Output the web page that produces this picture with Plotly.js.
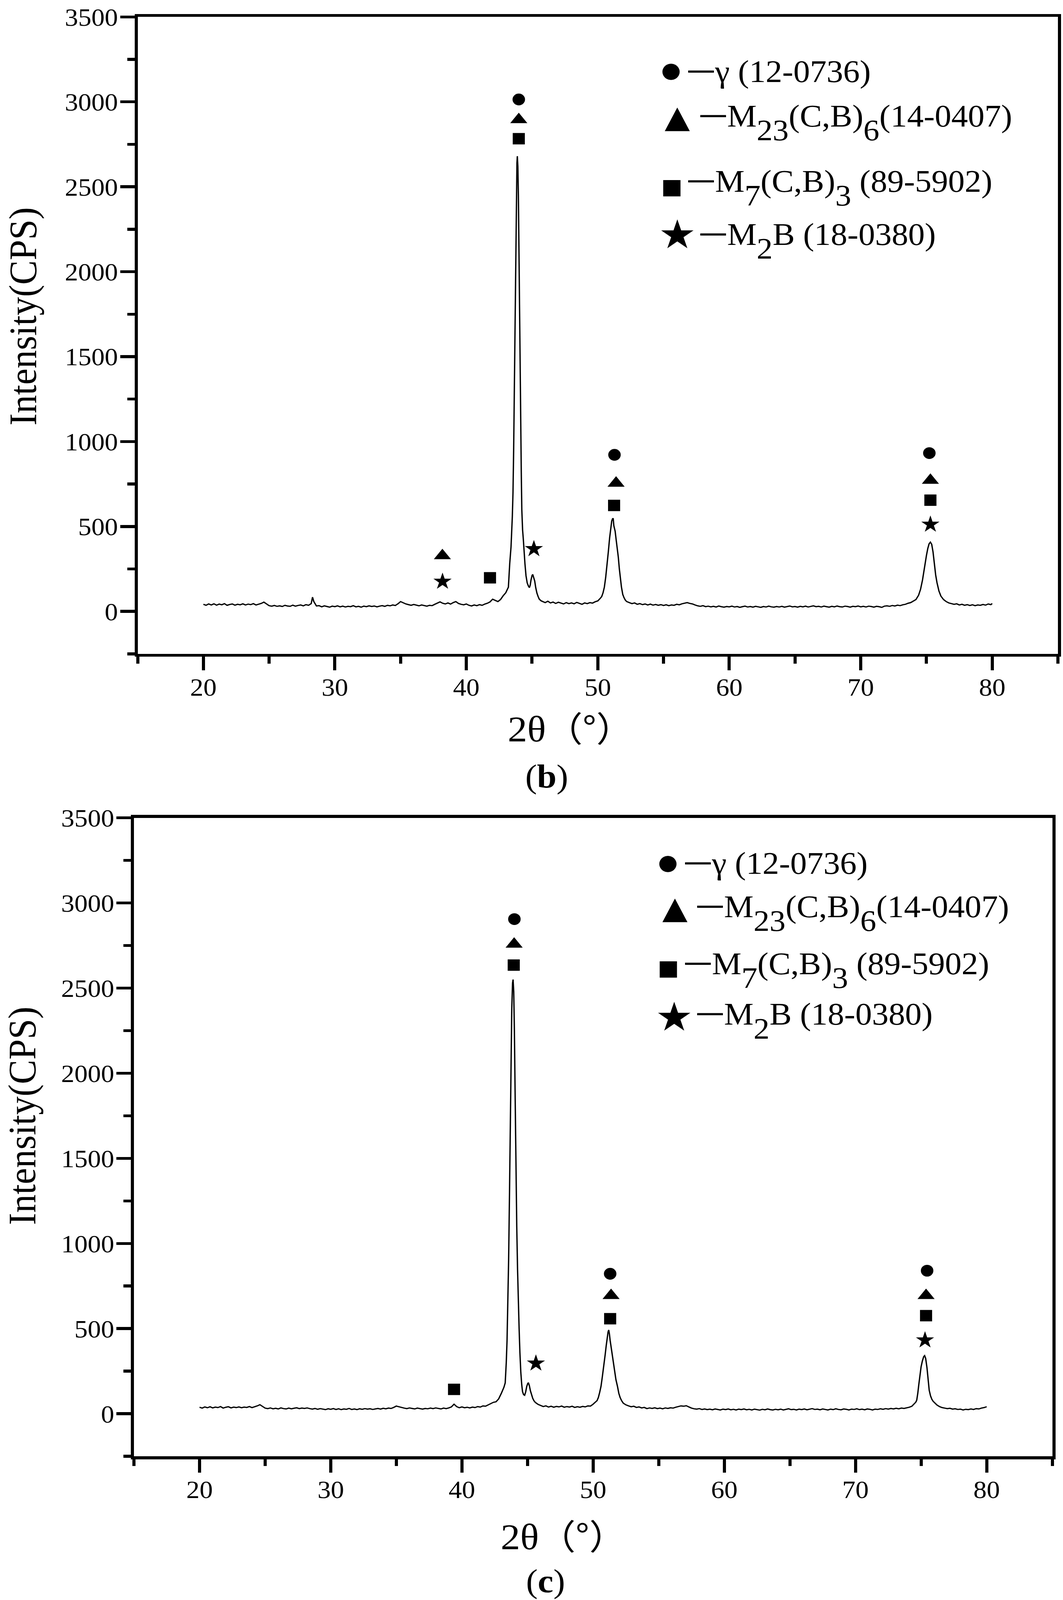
<!DOCTYPE html>
<html>
<head>
<meta charset="utf-8">
<script src="https://cdn.plot.ly/plotly-3.0.1.min.js"></script>
<style>html,body{margin:0;padding:0;background:#fff;overflow:hidden;}</style>
</head>
<body>
<div id="chart"></div>
<script>
// ---------- data (2θ in degrees, intensity in CPS) ----------
const thetaB = [
20.0,20.2,20.4,20.6,20.8,21.0,21.2,21.4,21.6,21.8,
22.0,22.2,22.4,22.6,22.8,23.0,23.2,23.4,23.6,23.8,
24.0,24.2,24.4,24.6,24.8,25.0,25.2,25.4,25.6,25.8,
26.0,26.2,26.4,26.6,26.8,27.0,27.2,27.4,27.6,27.8,
28.0,28.2,28.3,28.4,28.6,28.8,29.0,29.2,29.4,29.6,
29.8,30.0,30.2,30.4,30.6,30.8,31.0,31.2,31.4,31.6,
31.8,32.0,32.2,32.4,32.6,32.8,33.0,33.2,33.4,33.6,
33.8,34.0,34.2,34.4,34.6,34.8,35.0,35.2,35.4,35.6,
35.8,36.0,36.2,36.4,36.6,36.8,37.0,37.2,37.4,37.6,
37.8,38.0,38.2,38.4,38.6,38.8,39.0,39.2,39.4,39.6,
39.8,40.0,40.2,40.4,40.6,40.8,41.0,41.2,41.4,41.6,
41.8,42.0,42.2,42.4,42.6,42.8,43.0,43.1,43.2,43.3,
43.4,43.5,43.55,43.6,43.65,43.7,43.75,43.8,43.85,43.88,
43.92,43.96,44.0,44.05,44.1,44.14,44.18,44.22,44.28,44.34,
44.4,44.46,44.54,44.63,44.72,44.8,44.86,44.92,45.0,45.05,
45.12,45.2,45.28,45.37,45.46,45.55,45.7,45.8,46.0,46.2,
46.4,46.6,46.8,47.0,47.2,47.4,47.6,47.8,48.0,48.2,
48.4,48.6,48.8,49.0,49.2,49.4,49.6,49.8,50.0,50.2,
50.3,50.4,50.5,50.6,50.7,50.8,50.9,51.0,51.06,51.12,
51.17,51.22,51.27,51.32,51.4,51.48,51.56,51.64,51.72,51.8,
51.9,52.0,52.1,52.2,52.4,52.6,52.8,53.0,53.2,53.4,
53.6,53.8,54.0,54.2,54.4,54.6,54.8,55.0,55.2,55.4,
55.6,55.8,56.0,56.2,56.4,56.6,56.8,57.0,57.2,57.4,
57.6,57.8,58.0,58.2,58.4,58.6,58.8,59.0,59.2,59.4,
59.6,59.8,60.0,60.2,60.4,60.6,60.8,61.0,61.2,61.4,
61.6,61.8,62.0,62.2,62.4,62.6,62.8,63.0,63.2,63.4,
63.6,63.8,64.0,64.2,64.4,64.6,64.8,65.0,65.2,65.4,
65.6,65.8,66.0,66.2,66.4,66.6,66.8,67.0,67.2,67.4,
67.6,67.8,68.0,68.2,68.4,68.6,68.8,69.0,69.2,69.4,
69.6,69.8,70.0,70.2,70.4,70.6,70.8,71.0,71.2,71.4,
71.6,71.8,72.0,72.2,72.4,72.6,72.8,73.0,73.2,73.4,
73.6,73.8,74.0,74.2,74.4,74.55,74.7,74.85,75.0,75.1,
75.2,75.3,75.4,75.5,75.6,75.7,75.8,75.95,76.1,76.3,
76.5,76.7,76.9,77.1,77.3,77.5,77.7,77.9,78.1,78.3,
78.5,78.7,78.9,79.1,79.3,79.5,79.7,79.9,80.0
];
const countsB = [
42,36,44,38,45,37,43,39,46,36,
41,44,37,42,39,45,38,43,40,46,
38,42,47,55,44,34,31,35,30,33,
29,36,32,30,37,31,35,38,33,40,
36,46,84,58,32,34,27,33,29,25,
31,28,33,27,31,26,30,28,34,27,
30,25,31,28,33,29,32,27,31,34,
30,36,33,38,35,45,58,52,44,40,
36,41,37,33,38,35,31,36,34,42,
50,56,48,44,50,43,52,58,47,42,
39,44,36,32,38,34,40,36,43,48,
56,72,65,58,70,92,110,125,143,280,
380,560,700,950,1300,1700,2050,2450,2640,2680,
2620,2450,2150,1700,1300,1000,820,600,480,420,
340,280,210,168,150,140,155,185,212,218,
200,180,140,108,88,72,62,58,52,60,
50,55,47,54,49,44,52,46,50,45,
53,48,42,50,46,52,49,57,62,78,
88,110,143,200,267,350,433,500,532,545,
548,505,490,472,420,370,320,250,190,143,
100,80,66,58,52,46,50,42,46,40,
44,38,43,37,41,36,40,35,39,34,
38,36,42,39,45,48,52,47,44,38,
33,30,34,28,31,27,30,26,32,28,
25,29,27,31,26,29,24,28,31,26,
29,25,30,27,24,29,26,31,27,25,
29,26,30,25,28,32,27,29,25,30,
27,31,26,29,33,28,30,26,31,28,
25,30,27,32,28,26,31,29,25,30,
28,32,27,30,26,31,29,25,30,28,
24,31,33,30,35,32,37,34,39,42,
48,52,60,70,95,130,185,260,330,370,
398,408,395,350,280,215,170,120,90,70,
58,50,46,42,45,38,42,36,40,35,
39,34,38,36,41,37,44,40,47
];

const thetaC = [
20.0,20.2,20.4,20.6,20.8,21.0,21.2,21.4,21.6,21.8,
22.0,22.2,22.4,22.6,22.8,23.0,23.2,23.4,23.6,23.8,
24.0,24.2,24.4,24.6,24.8,25.0,25.2,25.4,25.6,25.8,
26.0,26.2,26.4,26.6,26.8,27.0,27.2,27.4,27.6,27.8,
28.0,28.2,28.4,28.6,28.8,29.0,29.2,29.4,29.6,29.8,
30.0,30.2,30.4,30.6,30.8,31.0,31.2,31.4,31.6,31.8,
32.0,32.2,32.4,32.6,32.8,33.0,33.2,33.4,33.6,33.8,
34.0,34.2,34.4,34.6,34.8,35.0,35.2,35.4,35.6,35.8,
36.0,36.2,36.4,36.6,36.8,37.0,37.2,37.4,37.6,37.8,
38.0,38.2,38.4,38.6,38.8,39.0,39.2,39.4,39.6,39.8,
40.0,40.2,40.4,40.6,40.8,41.0,41.2,41.4,41.6,41.8,
42.0,42.2,42.4,42.6,42.8,43.0,43.1,43.2,43.3,43.38,
43.44,43.5,43.56,43.62,43.68,43.74,43.8,43.86,43.9,43.95,
44.0,44.06,44.12,44.18,44.24,44.3,44.36,44.42,44.49,44.56,
44.62,44.7,44.78,44.86,44.94,45.02,45.07,45.14,45.22,45.3,
45.4,45.5,45.6,45.8,46.0,46.2,46.4,46.6,46.8,47.0,
47.2,47.4,47.6,47.8,48.0,48.2,48.4,48.6,48.8,49.0,
49.2,49.4,49.6,49.8,50.0,50.1,50.2,50.3,50.4,50.5,
50.6,50.7,50.8,50.92,51.0,51.08,51.14,51.19,51.24,51.3,
51.36,51.44,51.54,51.64,51.74,51.86,51.96,52.06,52.17,52.3,
52.5,52.7,52.9,53.1,53.3,53.5,53.7,53.9,54.1,54.3,
54.5,54.7,54.9,55.1,55.3,55.5,55.7,55.9,56.1,56.3,
56.5,56.7,56.9,57.1,57.3,57.5,57.7,57.9,58.1,58.3,
58.5,58.7,58.9,59.1,59.3,59.5,59.7,59.9,60.1,60.3,
60.5,60.7,60.9,61.1,61.3,61.5,61.7,61.9,62.1,62.3,
62.5,62.7,62.9,63.1,63.3,63.5,63.7,63.9,64.1,64.3,
64.5,64.7,64.9,65.1,65.3,65.5,65.7,65.9,66.1,66.3,
66.5,66.7,66.9,67.1,67.3,67.5,67.7,67.9,68.1,68.3,
68.5,68.7,68.9,69.1,69.3,69.5,69.7,69.9,70.1,70.3,
70.5,70.7,70.9,71.1,71.3,71.5,71.7,71.9,72.1,72.3,
72.5,72.7,72.9,73.1,73.3,73.5,73.7,73.9,74.1,74.3,
74.45,74.6,74.67,74.75,74.83,74.92,75.0,75.1,75.2,75.27,
75.35,75.45,75.55,75.62,75.72,75.82,75.92,76.05,76.2,76.4,
76.6,76.8,77.0,77.2,77.4,77.6,77.8,78.0,78.2,78.4,
78.6,78.8,79.0,79.2,79.4,79.6,79.8,80.0
];
const countsC = [
38,33,40,35,41,34,39,36,42,33,
38,41,34,39,36,40,35,39,37,42,
36,41,46,53,42,33,30,34,29,32,
28,34,30,28,33,29,32,35,30,33,
31,34,30,27,31,26,30,27,24,29,
26,30,25,29,24,28,26,31,25,28,
24,29,26,30,27,29,25,28,31,27,
32,29,33,31,37,45,41,36,33,30,
34,31,28,33,30,27,31,29,33,30,
34,31,28,33,30,34,40,56,42,35,
40,35,38,34,39,36,42,39,46,44,
52,58,67,70,87,119,135,155,181,300,
430,650,900,1250,1650,2050,2380,2530,2550,2480,
2250,1850,1450,1100,850,650,500,360,243,170,
130,112,108,128,160,178,182,165,135,115,
90,75,66,55,48,42,46,39,44,38,
43,40,45,38,42,39,44,37,41,38,
43,40,46,45,56,62,70,77,95,125,
160,215,270,347,400,450,480,492,470,430,
400,355,305,250,200,160,120,95,77,62,
52,46,41,44,37,40,34,37,30,34,
31,35,30,33,29,34,31,35,33,38,
42,46,44,47,40,33,29,27,30,25,
28,24,27,23,28,25,22,27,24,28,
23,26,22,27,24,28,23,26,22,27,
24,21,26,23,28,24,22,26,23,27,
22,25,29,24,26,22,27,24,28,23,
26,30,25,27,23,28,25,22,27,24,
29,25,23,28,26,22,27,25,29,24,
27,23,28,26,22,27,25,29,26,30,
27,31,28,32,29,33,31,34,38,44,
55,68,80,120,173,230,275,310,335,341,
325,270,190,138,105,85,73,62,52,42,
36,33,30,32,27,29,25,27,22,26,
24,28,25,30,28,33,36,41
];

// phase markers placed above the peaks (2θ, CPS)
const circleB   = {x: [43.99, 51.27, 75.22], y: [3014, 922, 932]};
const triangleB = {x: [43.99, 51.39, 75.3, 38.18], y: [2895, 755, 772, 328]};
const squareB   = {x: [43.99, 51.24, 75.3, 41.8], y: [2783, 624, 655, 198]};
const starB     = {x: [45.14, 38.19, 75.3], y: [368, 176, 512]};

const circleC   = {x: [44.0, 51.3, 75.46], y: [2905, 822, 840]};
const triangleC = {x: [43.98, 51.37, 75.38], y: [2758, 694, 694]};
const squareC   = {x: [43.95, 51.3, 75.38, 39.4], y: [2635, 558, 576, 143]};
const starC     = {x: [45.64, 75.3], y: [296, 432]};

const yTickVals = [0, 500, 1000, 1500, 2000, 2500, 3000, 3500];
const xTickVals = [20, 30, 40, 50, 60, 70, 80];

const SUBSPAN = t => '<sub><span style="font-size:82px;baseline-shift:-20px">' + t + '</span></sub>';
const legendLabels = [
  {sym: '●', text: 'γ (12-0736)'},
  {sym: '▲', text: 'M' + SUBSPAN('23') + '(C,B)' + SUBSPAN('6') + '(14-0407)'},
  {sym: '■', text: 'M' + SUBSPAN('7') + '(C,B)' + SUBSPAN('3') + ' (89-5902)'},
  {sym: '★', text: 'M' + SUBSPAN('2') + 'B (18-0380)'}
];

// ---------- layout helpers ----------
const W = 2722, H = 4353;
const px = v => v / W;
const py = v => 1 - v / H;
const SERIF = 'Liberation Serif, Times New Roman, serif';

// the visible viewport can be shorter than the requested window: squeeze the
// whole figure so that every part of it stays on the photograph
const chartDiv = document.getElementById('chart');
const vh = window.innerHeight, vw = window.innerWidth;
const sy = (vh > 2000 && vh < H) ? vh / H : 1;
const sx = (vw > 1500 && vw < W) ? vw / W : 1;
if (sx !== 1 || sy !== 1) {
  chartDiv.style.transformOrigin = '0 0';
  chartDiv.style.transform = 'scale(' + sx + ',' + sy + ')';
}

function xAxis(domain, anchor) {
  return {
    domain: domain, anchor: anchor, range: [15, 85],
    tickmode: 'array', tickvals: xTickVals,
    ticks: 'outside', ticklen: 37, tickwidth: 8, tickcolor: '#000',
    showline: true, linewidth: 8, linecolor: '#000', mirror: true,
    showgrid: false, zeroline: false,
    tickfont: {family: SERIF, size: 68, color: '#000'},
    ticklabelstandoff: -13,
    minor: {dtick: 5, tick0: 0, ticks: 'outside', ticklen: 19, tickwidth: 8, tickcolor: '#000', showgrid: false}
  };
}
function yAxis(domain, anchor) {
  return {
    domain: domain, anchor: anchor, range: [-250, 3500],
    tickmode: 'array', tickvals: yTickVals,
    ticks: 'outside', ticklen: 37, tickwidth: 8, tickcolor: '#000',
    showline: true, linewidth: 8, linecolor: '#000', mirror: true,
    showgrid: false, zeroline: false,
    tickfont: {family: SERIF, size: 68, color: '#000'},
    ticklabelstandoff: -8,
    minor: {dtick: 250, tick0: 0, ticks: 'outside', ticklen: 19, tickwidth: 8, tickcolor: '#000', showgrid: false}
  };
}

function lineTrace(x, y, xa, ya) {
  return {x: x, y: y, xaxis: xa, yaxis: ya, type: 'scatter', mode: 'lines',
          line: {color: '#000', width: 3.4}, hoverinfo: 'skip'};
}
function markTrace(m, symbol, size, xa, ya) {
  return {x: m.x, y: m.y, xaxis: xa, yaxis: ya, type: 'scatter', mode: 'markers',
          marker: {symbol: symbol, size: size, color: '#000', line: {width: 0}}, hoverinfo: 'skip'};
}

const traces = [
  lineTrace(thetaB, countsB, 'x', 'y'),
  markTrace(circleB, 'circle', 32, 'x', 'y'),
  markTrace(triangleB, 'triangle-up', 38, 'x', 'y'),
  markTrace(squareB, 'square', 31, 'x', 'y'),
  markTrace(starB, 'star', 35, 'x', 'y'),
  lineTrace(thetaC, countsC, 'x2', 'y2'),
  markTrace(circleC, 'circle', 32, 'x2', 'y2'),
  markTrace(triangleC, 'triangle-up', 38, 'x2', 'y2'),
  markTrace(squareC, 'square', 31, 'x2', 'y2'),
  markTrace(starC, 'star', 35, 'x2', 'y2')
];

const annotations = [];
function addText(text, x, y, size, opts) {
  annotations.push(Object.assign({
    text: text, xref: 'paper', yref: 'paper', x: px(x), y: py(y),
    xanchor: 'center', yanchor: 'middle', showarrow: false,
    font: {family: SERIF, size: size, color: '#000'}
  }, opts || {}));
}

const X_TITLE = '2θ<span style="font-family:Noto Sans CJK SC;font-size:94px">（°）</span>';
// axis titles and panel labels
addText('Intensity(CPS)', 58, 861, 100, {textangle: -90});
addText(X_TITLE, 1460, 1976, 100);
addText('(<b>b</b>)', 1400, 2112, 90);
addText('Intensity(CPS)', 56, 3036, 100, {textangle: -90});
addText(X_TITLE, 1442, 4174, 100);
addText('(<b>c</b>)', 1397, 4302, 90);

// legends (symbol + dash + label)
const symSizes = [58, 84, 58, 108];
const legendTop = {symX: [1718, 1734, 1720, 1734], symY: [190, 317, 507, 637], txtX: [1757, 1788, 1757, 1788], txtY: [192, 330, 508, 652]};
const legendBot = {symX: [1710, 1728, 1711, 1726], symY: [2346, 2470, 2633, 2765], txtX: [1749, 1780, 1749, 1780], txtY: [2345, 2481, 2636, 2774]};
const DASH = '<span style="font-family:Noto Sans CJK SC;font-size:72px">一</span>';
[legendTop, legendBot].forEach(L => {
  legendLabels.forEach((lab, i) => {
    addText(lab.sym, L.symX[i], L.symY[i], symSizes[i], {font: {family: 'DejaVu Sans', size: symSizes[i], color: '#000'}});
    addText(DASH + lab.text, L.txtX[i], L.txtY[i], 85, {xanchor: 'left'});
  });
});

const layout = {
  width: W, height: H,
  margin: {l: 0, r: 0, t: 0, b: 0, pad: 0},
  paper_bgcolor: '#fff', plot_bgcolor: '#fff',
  showlegend: false,
  font: {family: SERIF, color: '#000'},
  xaxis: xAxis([px(352.5), px(2709)], 'y'),
  yaxis: yAxis([py(1779), py(46)], 'x'),
  xaxis2: xAxis([px(343), px(2694.5)], 'y2'),
  yaxis2: yAxis([py(3962), py(2225)], 'x2'),
  annotations: annotations
};

Plotly.newPlot(chartDiv, traces, layout, {staticPlot: true, displayModeBar: false});
</script>
</body>
</html>
